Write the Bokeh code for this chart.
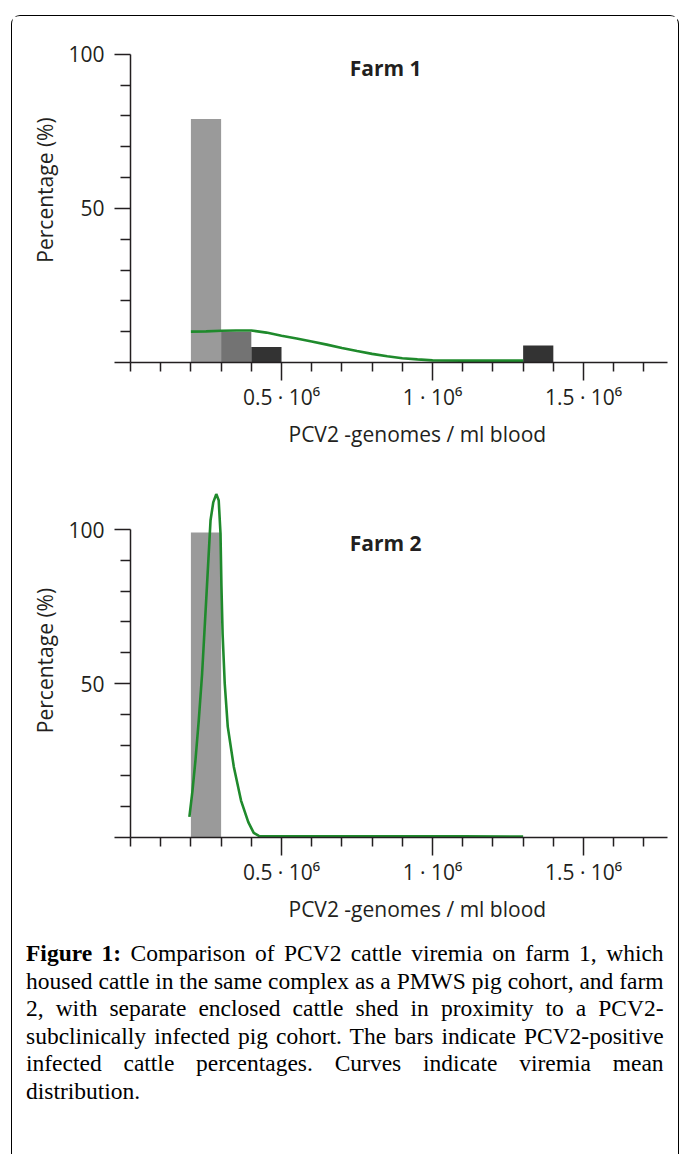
from bokeh.plotting import figure
from bokeh.models import Range1d, FixedTicker, Label, Title, Div, Column, Row, Spacer
from bokeh.embed import file_html
from bokeh.resources import INLINE

# ---------------- data ----------------
farm1_left = [0.2e6, 0.3e6, 0.4e6, 1.3e6]
farm1_right = [0.3e6, 0.4e6, 0.5e6, 1.4e6]
farm1_pct = [79, 10, 5, 5.5]
farm1_colors = ["#9a9a9a", "#737373", "#333333", "#333333"]

farm2_left = [0.2e6]
farm2_right = [0.3e6]
farm2_pct = [99]
farm2_colors = ["#9a9a9a"]

curve1_x = [0.2e6, 0.25e6, 0.3e6, 0.35e6, 0.4e6, 0.45e6, 0.5e6, 0.55e6, 0.6e6, 0.65e6,
            0.7e6, 0.75e6, 0.8e6, 0.85e6, 0.9e6, 0.95e6, 1.0e6, 1.1e6, 1.2e6, 1.3e6]
curve1_y = [10.0, 10.1, 10.3, 10.4, 10.4, 9.7, 8.7, 7.8, 6.8, 5.8,
            4.7, 3.7, 2.8, 2.0, 1.4, 1.0, 0.7, 0.6, 0.6, 0.6]

curve2_x = [0.195e6, 0.205e6, 0.215e6, 0.226e6, 0.237e6, 0.2517e6, 0.265e6, 0.274e6, 0.284e6,
            0.292e6, 0.298e6, 0.301e6, 0.305e6, 0.312e6, 0.322e6, 0.342e6, 0.366e6, 0.390e6,
            0.408e6, 0.425e6, 0.5e6, 0.7e6, 0.9e6, 1.1e6, 1.3e6]
curve2_y = [6.7, 15.0, 25.0, 38.0, 53.0, 79.0, 103.0, 108.8, 111.5,
            109.5, 98.7, 82.0, 66.0, 50.0, 36.0, 23.0, 12.0, 5.0,
            1.5, 0.5, 0.4, 0.4, 0.4, 0.4, 0.3]

x_major_ticks = [0.5e6, 1.0e6, 1.5e6]
x_major_labels = ["0.5 · 10⁶", "1 · 10⁶", "1.5 · 10⁶"]
x_minor_ticks = [0, 0.1e6, 0.2e6, 0.3e6, 0.4e6, 0.6e6, 0.7e6, 0.8e6, 0.9e6,
                 1.1e6, 1.2e6, 1.3e6, 1.4e6, 1.6e6, 1.7e6]
y_major_ticks = [0, 50, 100]
y_major_labels = ["", "50", "100"]
y_minor_ticks = [10, 20, 30, 40, 60, 70, 80, 90]

x_label = "PCV2 -genomes / ml blood"
y_label = "Percentage (%)"
titles = ["Farm 1", "Farm 2"]

caption_bold = "Figure 1:"
caption_lines = [
    " Comparison of PCV2 cattle viremia on farm 1, which",
    "housed cattle in the same complex as a PMWS pig cohort, and farm",
    "2, with separate enclosed cattle shed in proximity to a PCV2-",
    "subclinically infected pig cohort. The bars indicate PCV2-positive",
    "infected cattle percentages. Curves indicate viremia mean",
    "distribution.",
]

# ---------------- style ----------------
INK = "#231f20"
GREEN = "#1f8a2c"
FONT = "Open Sans"
X_END = 1.778e6
W = 665
H1, H2, H3 = 466, 445, 226


def make_panel(title, lefts, rights, tops, colors, cx, cy, height, y_end, bottom):
    p = figure(width=W, height=height, x_range=Range1d(0, X_END), y_range=Range1d(0, y_end),
               output_backend="svg", toolbar_location=None,
               min_border_left=118, min_border_right=10, min_border_top=1,
               min_border_bottom=bottom)
    p.outline_line_color = None
    p.grid.visible = False
    p.background_fill_color = "white"
    p.border_fill_color = "white"

    p.quad(left=lefts, right=rights, bottom=0, top=tops, fill_color=colors, line_color=None)
    p.line(cx, cy, line_color=GREEN, line_width=2.6)

    xa = p.xaxis[0]
    xa.ticker = FixedTicker(ticks=x_major_ticks, minor_ticks=x_minor_ticks)
    xa.major_label_overrides = dict(zip(x_major_ticks, x_major_labels))
    xa.major_tick_out = 18
    xa.minor_tick_out = 9
    xa.major_label_standoff = 2

    ya = p.yaxis[0]
    ya.ticker = FixedTicker(ticks=y_major_ticks, minor_ticks=y_minor_ticks)
    ya.major_label_overrides = dict(zip(y_major_ticks, y_major_labels))
    ya.bounds = (0, 100)
    ya.major_tick_out = 16
    ya.minor_tick_out = 10
    ya.major_label_standoff = 10
    ya.axis_label = y_label
    ya.axis_label_standoff = 6
    ya.axis_label_text_font = FONT
    ya.axis_label_text_font_size = "21px"
    ya.axis_label_text_font_style = "normal"
    ya.axis_label_text_color = INK

    for ax in (xa, ya):
        ax.axis_line_color = INK
        ax.axis_line_width = 1.5
        ax.major_tick_line_color = INK
        ax.minor_tick_line_color = INK
        ax.major_tick_line_width = 1.5
        ax.minor_tick_line_width = 1.5
        ax.major_tick_in = 0
        ax.minor_tick_in = 0
        ax.major_label_text_font = FONT
        ax.major_label_text_font_size = "21px"
        ax.major_label_text_color = INK

    p.add_layout(Title(text=x_label, align="left", offset=158, text_font=FONT,
                       text_font_size="21px", text_font_style="normal", text_color=INK,
                       standoff=8), "below")

    p.add_layout(Label(x=0.845e6, y=95.5, text=title, text_align="center",
                       text_baseline="middle", text_font=FONT, text_font_style="bold",
                       text_font_size="21px", text_color=INK))
    return p


p1 = make_panel(titles[0], farm1_left, farm1_right, farm1_pct, farm1_colors,
                curve1_x, curve1_y, height=H1, y_end=111.9, bottom=120)
p2 = make_panel(titles[1], farm2_left, farm2_right, farm2_pct, farm2_colors,
                curve2_x, curve2_y, height=H2, y_end=114.94, bottom=90)

line_divs = []
for i, ln in enumerate(caption_lines):
    last = i == len(caption_lines) - 1
    align = "text-align:left;" if last else "text-align:justify; text-align-last:justify;"
    content = ln if i else "<b>" + caption_bold + "</b>" + ln
    line_divs.append("<div style=\"" + align + "\">" + content + "</div>")

cap = Div(
    text=("<div style=\"padding:8px 7px 0 9px; font-family:'Liberation Serif', serif; "
          "font-size:23.5px; line-height:27.6px; color:#000;\">" + "".join(line_divs) + "</div>"),
    width=W, height=H3)

inner = Column(children=[p1, p2, cap], width=W + 3, height=H1 + H2 + H3 + 2,
               styles={"border": "1.5px solid #000", "border-bottom": "none",
                       "border-radius": "9px 9px 0 0", "background": "white",
                       "box-sizing": "border-box"})
layout = Column(children=[Spacer(height=15), Row(children=[Spacer(width=11), inner])])

open("out.html", "w").write(file_html(layout, INLINE))
